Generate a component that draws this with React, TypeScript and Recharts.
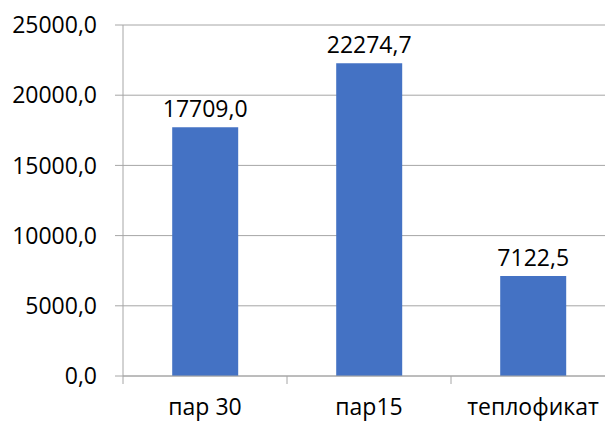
import React from "react";
import { Bar, BarChart, CartesianGrid, LabelList, XAxis, YAxis } from "recharts";

const categories = ["пар 30", "пар15", "теплофикат"];
const values = [17709.0, 22274.7, 7122.5];
const yTicks = [0, 5000, 10000, 15000, 20000, 25000];

const data = categories.map((name, i) => ({ name, value: values[i] }));

const FONT = "'Open Sans', 'Liberation Sans', sans-serif";
const GRID = "#a6a6a6";
const fmt = (v: number) => v.toFixed(1).replace(".", ",");

const XTick = (props: any) => {
  const { x, y, payload, index } = props;
  const half = payload && payload.offset ? payload.offset : 82;
  const last = index === categories.length - 1;
  return (
    <g>
      <line x1={x - half} x2={x - half} y1={y} y2={y + 8} stroke={GRID} />
      {last && <line x1={x + half} x2={x + half} y1={y} y2={y + 8} stroke={GRID} />}
      <text x={x} y={y + 39} textAnchor="middle" fill="#000" fontSize={23} fontFamily={FONT}>
        {payload.value}
      </text>
    </g>
  );
};

export default function App() {
  return (
    <div style={{ position: "absolute", left: 0, top: 0, width: 605, height: 421, overflow: "hidden", background: "#fff" }}>
      <BarChart
        width={625}
        height={421}
        data={data}
        margin={{ top: 25, right: 10, bottom: 0, left: 0 }}
        barCategoryGap="30%"
      >
        <CartesianGrid vertical={false} stroke={GRID} />
        <XAxis
          dataKey="name"
          axisLine={{ stroke: GRID }}
          tickLine={false}
          tickSize={0}
          tickMargin={0}
          height={45}
          tick={<XTick />}
          interval={0}
        />
        <YAxis
          width={123}
          domain={[0, 25000]}
          ticks={yTicks}
          tickFormatter={fmt}
          axisLine={{ stroke: GRID }}
          tickLine={{ stroke: GRID }}
          tickSize={8}
          tickMargin={18}
          tick={{ fill: "#000", fontSize: 23, fontFamily: FONT }}
        />
        <Bar dataKey="value" fill="#4472c4" isAnimationActive={false}>
          <LabelList
            dataKey="value"
            position="top"
            offset={10}
            formatter={(v: any) => fmt(Number(v))}
            fill="#000"
            fontSize={23}
            fontFamily={FONT}
          />
        </Bar>
      </BarChart>
    </div>
  );
}
